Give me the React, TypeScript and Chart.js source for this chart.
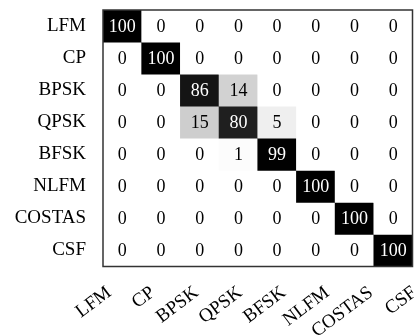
import React, { useEffect, useRef } from "react";
import { Chart, registerables } from "chart.js";

Chart.register(...registerables);

const rowLabels = ["LFM", "CP", "BPSK", "QPSK", "BFSK", "NLFM", "COSTAS", "CSF"];
const colLabels = ["LFM", "CP", "BPSK", "QPSK", "BFSK", "NLFM", "COSTAS", "CSF"];

const rowLFM = [100, 0, 0, 0, 0, 0, 0, 0];
const rowCP = [0, 100, 0, 0, 0, 0, 0, 0];
const rowBPSK = [0, 0, 86, 14, 0, 0, 0, 0];
const rowQPSK = [0, 0, 15, 80, 5, 0, 0, 0];
const rowBFSK = [0, 0, 0, 1, 99, 0, 0, 0];
const rowNLFM = [0, 0, 0, 0, 0, 100, 0, 0];
const rowCOSTAS = [0, 0, 0, 0, 0, 0, 100, 0];
const rowCSF = [0, 0, 0, 0, 0, 0, 0, 100];

const rows = [rowLFM, rowCP, rowBPSK, rowQPSK, rowBFSK, rowNLFM, rowCOSTAS, rowCSF];

const FONT = '"Liberation Serif", "DejaVu Serif", serif';

function cellColor(v: number) {
  const g = Math.round(255 * Math.pow(1 - v / 100, 1.3));
  return `rgb(${g},${g},${g})`;
}

function zeroPad(s: any) {
  s.paddingLeft = 0;
  s.paddingRight = 0;
  s.paddingTop = 0;
  s.paddingBottom = 0;
}

export default function App() {
  const ref = useRef<HTMLCanvasElement | null>(null);

  useEffect(() => {
    if (!ref.current) return;
    const n = rowLabels.length;
    const datasets = rows.map((vals, i) => ({
      label: rowLabels[i],
      data: vals.map(() => [n - 1 - i, n - i] as [number, number]),
      values: vals,
      backgroundColor: vals.map(cellColor),
      borderWidth: 0,
      barPercentage: 1,
      categoryPercentage: 1,
      grouped: false,
      xAxisID: "x",
      yAxisID: "y",
    }));

    const textPlugin = {
      id: "cellText",
      afterDatasetsDraw(chart: any) {
        const ctx = chart.ctx;
        ctx.save();
        ctx.font = `18px ${FONT}`;
        ctx.textAlign = "center";
        ctx.textBaseline = "middle";
        chart.data.datasets.forEach((ds: any, di: number) => {
          const meta = chart.getDatasetMeta(di);
          meta.data.forEach((el: any, j: number) => {
            const v = ds.values[j];
            ctx.fillStyle = v > 50 ? "#ffffff" : "#000000";
            ctx.fillText(String(v), el.x, (el.y + el.base) / 2 + 1);
          });
        });
        const a = chart.chartArea;
        ctx.strokeStyle = "#333333";
        ctx.lineWidth = 1.5;
        ctx.strokeRect(a.left, a.top, a.right - a.left, a.bottom - a.top);
        ctx.restore();
      },
    };

    const chart = new Chart(ref.current, {
      type: "bar",
      data: { labels: colLabels, datasets: datasets as any },
      options: {
        animation: false,
        responsive: false,
        maintainAspectRatio: false,
        layout: { padding: { top: 10, right: 6.5, left: 0, bottom: 0 } },
        plugins: { legend: { display: false }, tooltip: { enabled: false }, title: { display: false } },
        scales: {
          x: {
            type: "category",
            display: false,
          },
          xLabels: {
            type: "linear",
            position: "bottom",
            offset: false,
            min: -0.145,
            max: 6.954,
            grid: { display: false, drawTicks: false, offset: false },
            border: { display: false },
            afterBuildTicks: (s: any) => {
              s.ticks = colLabels.map((_, i) => ({ value: i }));
            },
            ticks: {
              color: "#000",
              font: { family: FONT, size: 19 },
              minRotation: 37,
              maxRotation: 37,
              padding: 15,
              autoSkip: false,
              callback: (v: any) => colLabels[Math.round(Number(v))],
            },
            afterFit: (s: any) => {
              s.height = 69.5;
              zeroPad(s);
            },
          },
          y: {
            type: "linear",
            min: 0,
            max: n,
            grid: { display: false, drawTicks: false },
            border: { display: false },
            afterBuildTicks: (s: any) => {
              s.ticks = rowLabels.map((_, i) => ({ value: n - 0.5 - i }));
            },
            ticks: {
              color: "#000",
              font: { family: FONT, size: 19 },
              padding: 17,
              callback: (v: any) => rowLabels[Math.round(n - 0.5 - Number(v))],
            },
            afterFit: (s: any) => {
              s.width = 103;
              zeroPad(s);
            },
          },
        },
      },
      plugins: [textPlugin],
    });
    return () => chart.destroy();
  }, []);

  return (
    <div style={{ position: "absolute", left: 0, top: 0, width: 419, height: 336, background: "#fff" }}>
      <canvas ref={ref} width={419} height={336} style={{ display: "block", width: 419, height: 336 }} />
    </div>
  );
}
